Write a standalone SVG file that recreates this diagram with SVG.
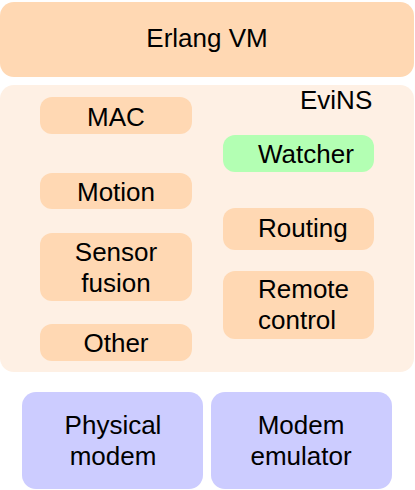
<svg xmlns="http://www.w3.org/2000/svg" width="415" height="490" viewBox="0 0 415 490">
<style>
.peach{fill:#FFD8B3}
.t{font-family:"Liberation Sans",Arial,sans-serif;font-size:26px;fill:#000}
.c{text-anchor:middle}
</style>
<rect width="415" height="490" fill="#fff"/>
<g id="erlang"><rect class="peach" x="0" y="2" width="414" height="75" rx="14"/><text class="t c" x="207" y="47">Erlang VM</text></g>
<g id="evins"><rect x="0" y="85" width="414" height="287" rx="14" fill="#FEF0E4"/><text class="t" x="300" y="109">EviNS</text></g>
<g id="mac"><rect class="peach" x="40" y="97" width="152" height="37" rx="12"/><text class="t c" x="116" y="126">MAC</text></g>
<g id="motion"><rect class="peach" x="40" y="173" width="152" height="36" rx="12"/><text class="t c" x="116" y="201">Motion</text></g>
<g id="sensor"><rect class="peach" x="40" y="233" width="152" height="68" rx="12"/><text class="t c" x="116" y="261">Sensor</text><text class="t c" x="116" y="292">fusion</text></g>
<g id="other"><rect class="peach" x="40" y="324" width="152" height="37" rx="12"/><text class="t c" x="116" y="352">Other</text></g>
<g id="watcher"><rect x="223" y="135" width="151" height="37" rx="12" fill="#B3FFB3"/><text class="t" x="258" y="163">Watcher</text></g>
<g id="routing"><rect class="peach" x="223" y="208" width="151" height="42" rx="12"/><text class="t" x="258" y="237">Routing</text></g>
<g id="remote"><rect class="peach" x="223" y="271" width="151" height="68" rx="12"/><text class="t" x="258" y="298">Remote</text><text class="t" x="258" y="329">control</text></g>
<g id="physical"><rect x="22" y="392" width="181" height="97" rx="14" fill="#CCCCFF"/><text class="t c" x="113" y="434">Physical</text><text class="t c" x="113" y="465">modem</text></g>
<g id="emulator"><rect x="211" y="392" width="181" height="97" rx="14" fill="#CCCCFF"/><text class="t c" x="301" y="434">Modem</text><text class="t c" x="301" y="465">emulator</text></g>
<g id="connectors"/>
</svg>
